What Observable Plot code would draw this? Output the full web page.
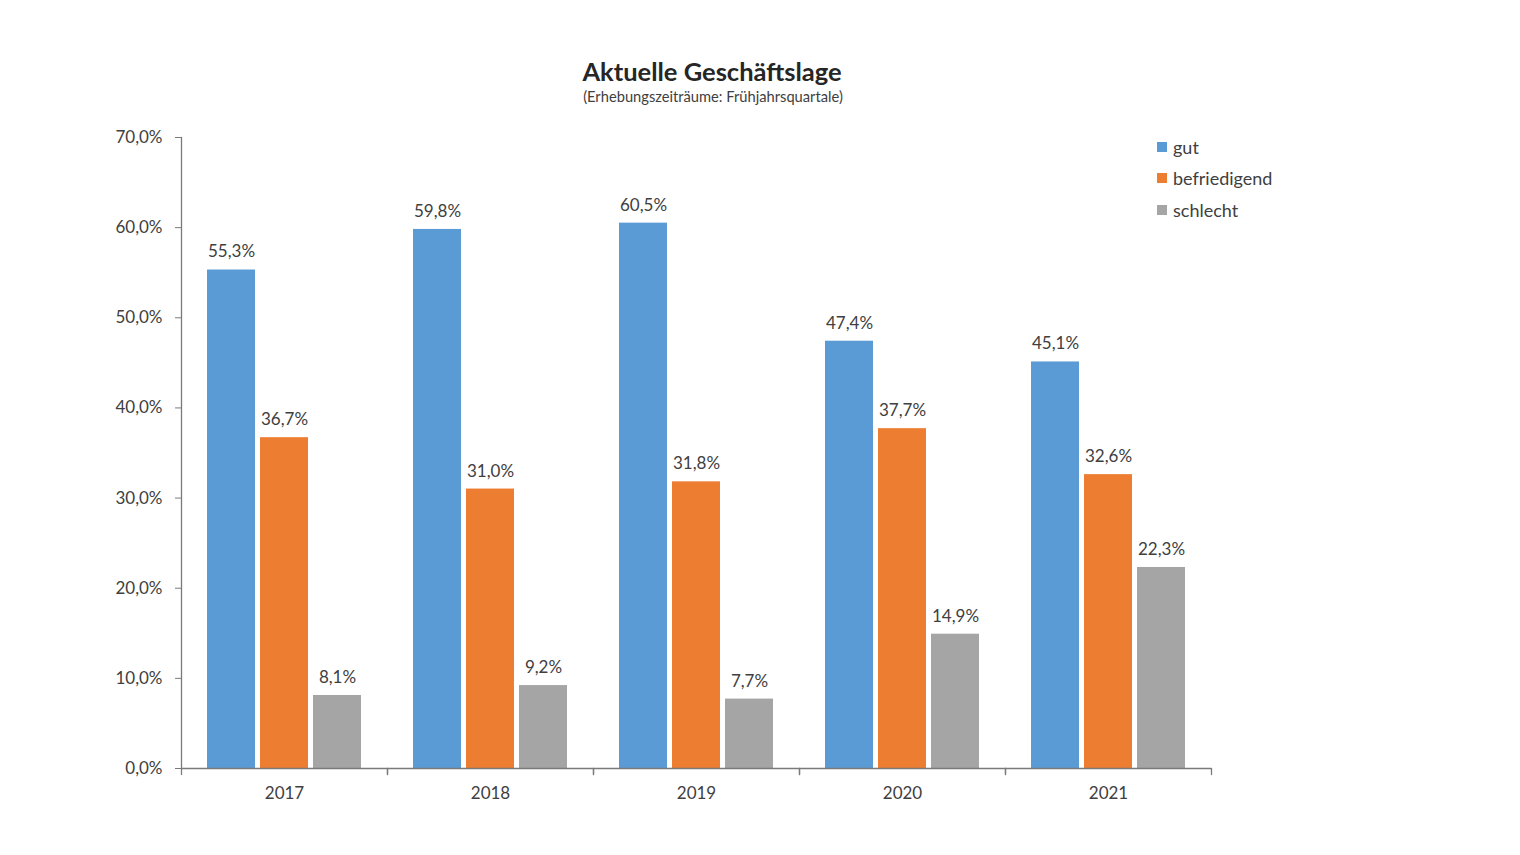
<!DOCTYPE html>
<html>
<head>
<meta charset="utf-8">
<script src="https://cdn.jsdelivr.net/npm/d3@7"></script>
<script src="https://cdn.jsdelivr.net/npm/@observablehq/plot@0.6"></script>
<style>
  body { margin: 0; background: #fff; font-family: Lato, "Open Sans", sans-serif; color: #404040; }
  #wrap { position: relative; width: 1520px; height: 855px; }
  #title { position: absolute; left: 712px; top: 59px; transform: translateX(-50%); font-size: 25.5px; font-weight: bold; color: #262626; white-space: nowrap; line-height: 1; }
  #subtitle { position: absolute; left: 713px; top: 89px; transform: translateX(-50%); font-size: 14.7px; color: #404040; white-space: nowrap; line-height: 1; }
  #chart { position: absolute; left: 0; top: 110px; }
  #legend { position: absolute; left: 1157px; top: 131px; font-size: 18px; color: #404040; }
  .item { display: flex; align-items: center; height: 31.5px; }
  .sw { width: 10px; height: 10px; margin-right: 6px; }
</style>
</head>
<body>
<div id="wrap">
  <div id="title">Aktuelle Geschäftslage</div>
  <div id="subtitle">(Erhebungszeiträume: Frühjahrsquartale)</div>
  <div id="chart"></div>
  <div id="legend"></div>
</div>
<script>
const years = ["2017", "2018", "2019", "2020", "2021"];
const series = ["gut", "befriedigend", "schlecht"];
const gut = [55.3, 59.8, 60.5, 47.4, 45.1];
const befriedigend = [36.7, 31.0, 31.8, 37.7, 32.6];
const schlecht = [8.1, 9.2, 7.7, 14.9, 22.3];
const yTicks = [0, 10, 20, 30, 40, 50, 60, 70];
const colors = ["#5B9BD5", "#ED7D31", "#A5A5A5"];

const values = {gut, befriedigend, schlecht};
const data = [];
years.forEach((year, i) => series.forEach(s => data.push({year, series: s, value: values[s][i]})));

const fmt = v => v.toFixed(1).replace(".", ",") + "%";

const W = 1520, H = 698, mt = 27, mb = 40, ml = 180, mr = 309;
const innerH = H - mt - mb;
const axisColor = "#7a7a7a";

const chart = Plot.plot({
  width: W,
  height: H,
  marginTop: mt,
  marginBottom: mb,
  marginLeft: ml,
  marginRight: mr,
  style: {fontFamily: "Lato, 'Open Sans', sans-serif", fontSize: "17px", color: "#404040", background: "#fff"},
  fx: {domain: years, padding: 0},
  x: {domain: series, paddingInner: 0.094, paddingOuter: 0.49, axis: null},
  y: {domain: [0, 70], axis: null},
  color: {domain: series, range: colors},
  marks: [
    Plot.barY(data, {fx: "year", x: "series", y: "value", fill: "series"}),
    Plot.text(data, {fx: "year", x: "series", y: "value", text: d => fmt(d.value), dy: -18, fill: "#404040", fontSize: 17}),
    Plot.ruleY([0], {stroke: axisColor, strokeWidth: 1.3}),
    Plot.vector([0], {frameAnchor: "bottom-left", rotate: 180, length: 6, anchor: "start", shape: "spike", r: 0, stroke: axisColor, strokeWidth: 1.3}),
    Plot.vector([0], {frameAnchor: "bottom-right", rotate: 180, length: 6, anchor: "start", shape: "spike", r: 0, stroke: axisColor, strokeWidth: 1.3}),
    Plot.vector([{year: "2017"}], {fx: "year", frameAnchor: "bottom-left", rotate: 0, length: innerH, anchor: "start", shape: "spike", r: 0, stroke: axisColor, strokeWidth: 1.3}),
    Plot.axisY({ticks: yTicks, tickFormat: fmt, tickSize: 6, tickPadding: 13, label: null, stroke: axisColor, fill: "#404040", fontSize: 17}),
    Plot.axisFx({anchor: "bottom", tickSize: 0, tickPadding: 18, label: null, fill: "#404040", fontSize: 17})
  ]
});
document.getElementById("chart").appendChild(chart);

const legend = document.getElementById("legend");
series.forEach((s, i) => {
  const item = document.createElement("div");
  item.className = "item";
  item.innerHTML = `<span class="sw" style="background:${colors[i]}"></span><span>${s}</span>`;
  legend.appendChild(item);
});
</script>
</body>
</html>
